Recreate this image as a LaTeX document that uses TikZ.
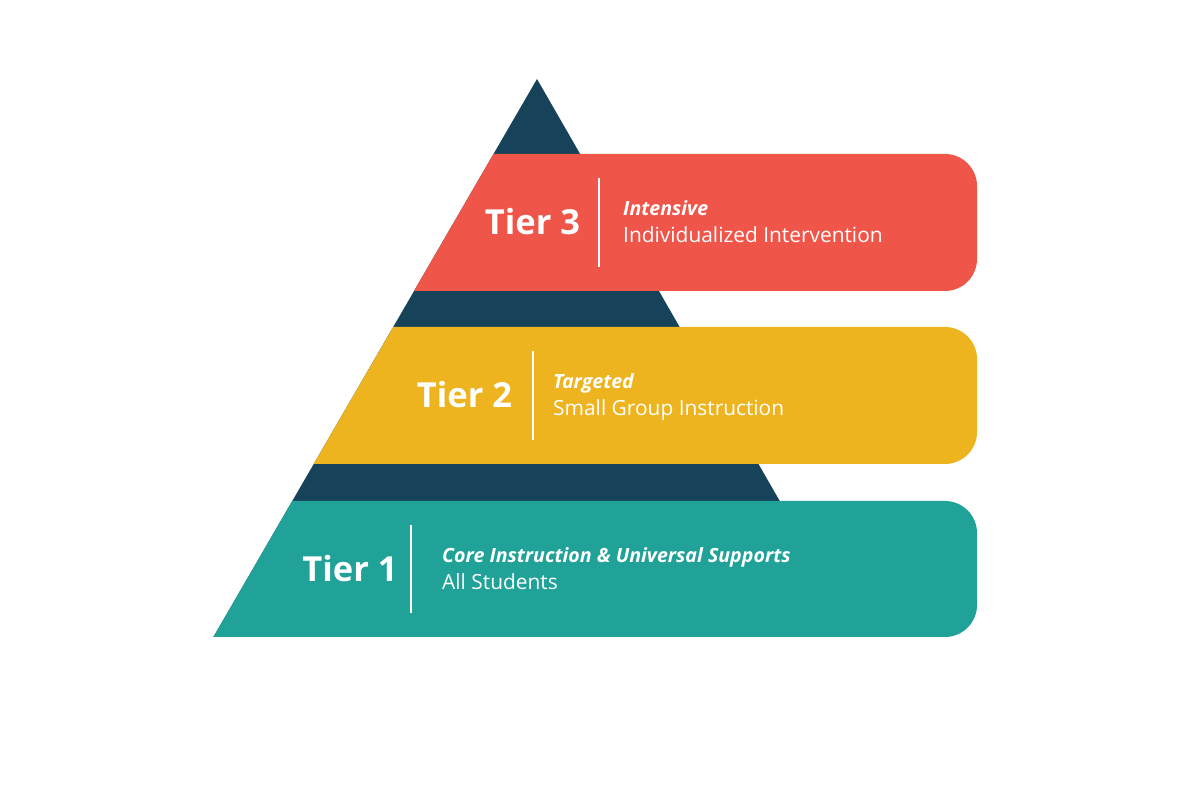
\documentclass[tikz,border=0pt]{standalone}
\usepackage{fontspec}
\setmainfont{Open Sans}
\definecolor{navy}{HTML}{16425A}
\definecolor{tierred}{HTML}{F0554A}
\definecolor{tieryellow}{HTML}{EDB41F}
\definecolor{tierteal}{HTML}{20A298}
\tikzset{
  tierlabel/.style={anchor=base, inner sep=0pt, text=white, font=\fontsize{34.5}{40}\selectfont\bfseries},
  headline/.style={anchor=base west, inner sep=0pt, text=white, font=\fontsize{19.6}{24}\selectfont\bfseries\itshape},
  subline/.style={anchor=base west, inner sep=0pt, text=white, font=\fontsize{20.9}{24}\selectfont},
  divider/.style={draw=white, line width=2.6pt},
}
\begin{document}
\begin{tikzpicture}[x=1pt,y=1pt]
\useasboundingbox (0,0) rectangle (1200,800);
% pyramid
\fill[navy] (537,721) -- (213.4,163) -- (858,163) -- cycle;
% tier 3 band
\fill[tierred] (493.5,646) -- (945,646) arc[start angle=90,end angle=0,radius=32pt]
  -- (977,541) arc[start angle=0,end angle=-90,radius=32pt] -- (414.0,509) -- cycle;
% tier 2 band
\fill[tieryellow] (393.2,473) -- (945,473) arc[start angle=90,end angle=0,radius=32pt]
  -- (977,368) arc[start angle=0,end angle=-90,radius=32pt] -- (313.7,336) -- cycle;
% tier 1 band
\fill[tierteal] (292.2,299) -- (945,299) arc[start angle=90,end angle=0,radius=32pt]
  -- (977,195) arc[start angle=0,end angle=-90,radius=32pt] -- (213.4,163) -- cycle;
% tier 3 text
\node[tierlabel] (t3) at (532.5,565) {Tier 3};
\coordinate (d3a) at (599,622); \coordinate (d3b) at (599,533);
\draw[divider] (d3a) -- (d3b);
\node[headline] (h3) at (623,584) {Intensive};
\node[subline] (s3) at (623,557) {Individualized Intervention};
% tier 2 text
\node[tierlabel] (t2) at (464.5,392) {Tier 2};
\coordinate (d2a) at (533,449); \coordinate (d2b) at (533,360);
\draw[divider] (d2a) -- (d2b);
\node[headline] (h2) at (553,411) {Targeted};
\node[subline] (s2) at (553,384) {Small Group Instruction};
% tier 1 text
\node[tierlabel] (t1) at (350,218) {Tier 1};
\coordinate (d1a) at (411,275); \coordinate (d1b) at (411,187);
\draw[divider] (d1a) -- (d1b);
\node[headline] (h1) at (442,237) {Core Instruction \& Universal Supports};
\node[subline] (s1) at (442,210) {All Students};
\end{tikzpicture}
\end{document}
